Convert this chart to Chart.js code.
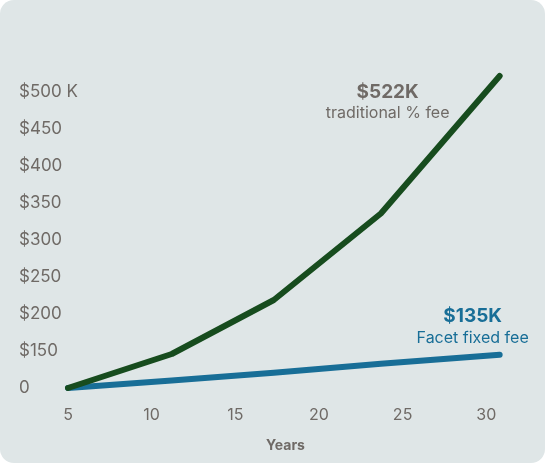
<!DOCTYPE html>
<html>
<head>
<meta charset="utf-8">
<script src="https://cdn.jsdelivr.net/npm/chart.js@4.4.1/dist/chart.umd.min.js"></script>
<style>
  html, body { margin: 0; padding: 0; background: #ffffff; }
  .panel {
    position: absolute; left: 0; top: 0; width: 545px; height: 463px;
    background: #dfe6e7; border-radius: 14px;
  }
  .wrap { position: absolute; left: 0; top: 0; width: 547px; height: 465px; }
</style>
</head>
<body>
<div class="panel"></div>
<div class="wrap"><canvas id="myChart" width="547" height="465"></canvas></div>
<script>
// values in $K
var years = [5, 11.2, 17.3, 23.7, 30.8];
var traditionalFee = [0, 138, 219, 336, 522];
var facetFee = [0, 30, 62, 98, 135];
var seriesNames = ['traditional % fee', 'Facet fixed fee'];
var xTicks = [5, 10, 15, 20, 25, 30];
var yTicks = [0, 150, 200, 250, 300, 350, 400, 450, 500];

var grey = '#6f6a66';
var green = '#174c1e';
var blue = '#186e97';

// y axis in the picture is evenly spaced but jumps 0 -> 150
function toStep(v) {
  var first = yTicks[1], step = yTicks[2] - yTicks[1];
  return v <= first ? v / first : 1 + (v - first) / step;
}
function fromStep(s) {
  var first = yTicks[1], step = yTicks[2] - yTicks[1];
  return s <= 1 ? s * first : first + (s - 1) * step;
}

class SteppedScale extends Chart.LinearScale {
  buildTicks() {
    return yTicks.map(function(v){ return {value: v}; });
  }
  getPixelForValue(v) {
    return this.getPixelForDecimal(toStep(v) / toStep(this.max));
  }
  getValueForPixel(p) {
    return fromStep(this.getDecimalForPixel(p) * toStep(this.max));
  }
}
SteppedScale.id = 'stepped';
SteppedScale.defaults = Chart.LinearScale.defaults;
Chart.register(SteppedScale);

function points(xs, ys) {
  return xs.map(function(x, i){ return {x: x, y: ys[i]}; });
}

var endLabels = {
  id: 'endLabels',
  afterDatasetsDraw: function(chart) {
    var ctx = chart.ctx;
    chart.data.datasets.forEach(function(ds, i) {
      var meta = chart.getDatasetMeta(i);
      var last = meta.data[meta.data.length - 1];
      var val = ds.data[ds.data.length - 1].y;
      var o = ds.labelOffset;
      ctx.save();
      ctx.fillStyle = ds.labelColor;
      ctx.textAlign = 'center';
      ctx.textBaseline = 'middle';
      ctx.font = 'bold 19px Inter';
      ctx.fillText('$' + val + 'K', last.x + o[0], last.y + o[1]);
      ctx.font = '16px Inter';
      ctx.fillText(ds.label, last.x + o[0], last.y + o[1] + 21);
      ctx.restore();
    });
  }
};

Chart.defaults.font.family = 'Inter';
Chart.defaults.color = grey;

var ctx = document.getElementById('myChart');
new Chart(ctx, {
  type: 'line',
  data: {
    datasets: [{
      label: seriesNames[0],
      data: points(years, traditionalFee),
      borderColor: green,
      labelColor: grey,
      labelOffset: [-112, 16]
    }, {
      label: seriesNames[1],
      data: points(years, facetFee),
      borderColor: blue,
      labelColor: blue,
      labelOffset: [-27, -38]
    }]
  },
  options: {
    responsive: false,
    animation: false,
    clip: false,
    elements: {
      line: { borderWidth: 6, tension: 0, borderCapStyle: 'round', borderJoinStyle: 'round' },
      point: { radius: 0 }
    },
    layout: { padding: { left: 19, top: 76, right: 44, bottom: 0 } },
    plugins: { legend: { display: false }, tooltip: { enabled: false } },
    scales: {
      x: {
        type: 'linear',
        min: 5,
        max: 31,
        grid: { display: false },
        border: { display: false },
        afterBuildTicks: function(scale) {
          scale.ticks = xTicks.map(function(v){ return {value: v}; });
        },
        afterFit: function(scale) { scale.height = 77; },
        ticks: { font: { size: 16 }, padding: 10, maxRotation: 0 },
        title: { display: true, text: 'Years', font: { size: 14, weight: 'bold' }, padding: { bottom: 11 } }
      },
      y: {
        type: 'stepped',
        min: 0,
        max: 522,
        grid: { display: false },
        border: { display: false },
        afterFit: function(scale) { scale.width = 49; },
        ticks: {
          font: { size: 17 },
          mirror: true,
          crossAlign: 'near',
          padding: -49,
          callback: function(v) {
            if (v === 0) return '0';
            return v === yTicks[yTicks.length - 1] ? '$' + v + ' K' : '$' + v;
          }
        }
      }
    }
  },
  plugins: [endLabels]
});
</script>
</body>
</html>
